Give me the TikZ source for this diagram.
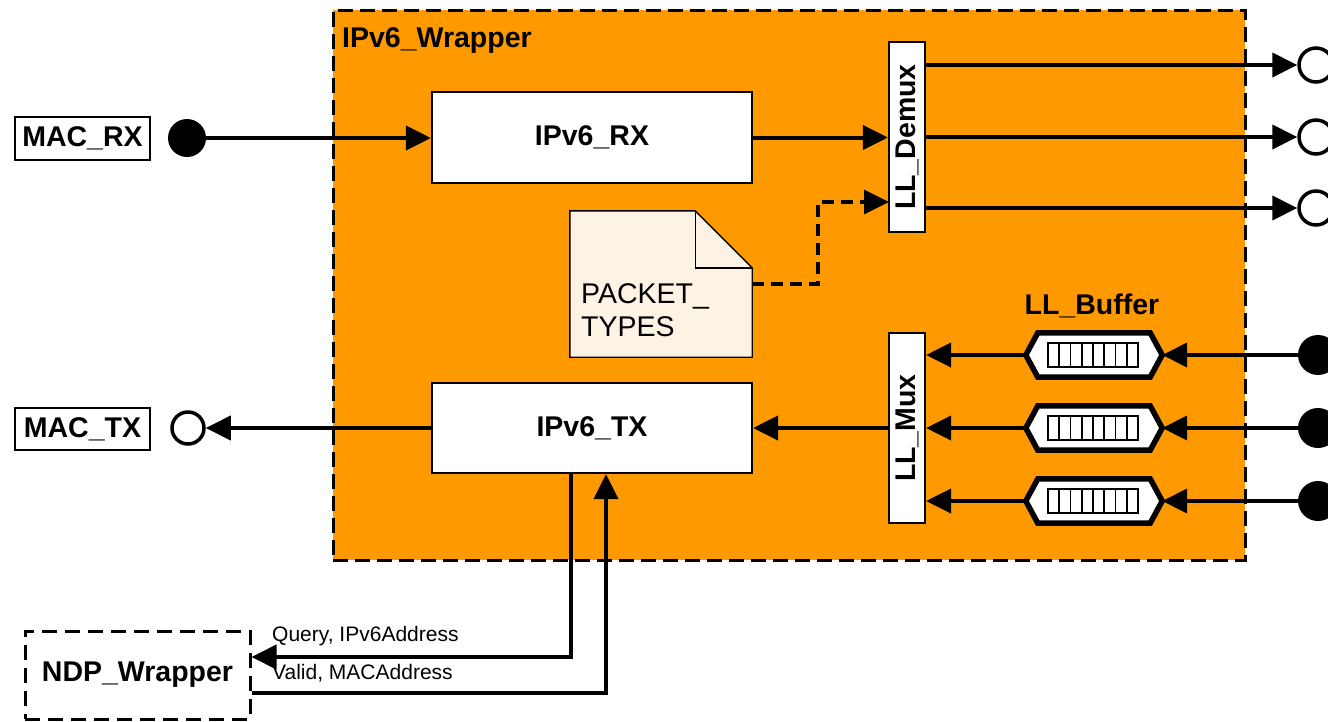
\documentclass[tikz,border=0pt]{standalone}
\usepackage{fontspec}
\setmainfont{Liberation Sans}
\usetikzlibrary{arrows.meta,calc}
\definecolor{orng}{RGB}{255,153,0}
\definecolor{notefill}{RGB}{253,243,228}
\begin{document}
\begin{tikzpicture}[x=1pt,y=-1pt,
  bigfont/.style={font=\bfseries\fontsize{28.5}{32}\selectfont},
  blk/.style={draw, line width=2.2pt, fill=white, bigfont, inner sep=0pt},
  tag/.style={draw, line width=1.6pt, fill=white, bigfont, inner sep=0pt},
  wire/.style={line width=4pt, -{Triangle[length=25pt,width=24pt]}},
  dwire/.style={line width=3.5pt, dash pattern=on 12pt off 7pt, -{Triangle[length=25pt,width=24pt]}},
  lbl/.style={font=\fontsize{21}{24}\selectfont, anchor=west, inner sep=0pt},
  dot/.style={circle, fill=black, inner sep=0pt, minimum size=#1},
  odot/.style={circle, draw, line width=3.5pt, fill=white, inner sep=0pt, minimum size=#1},
  bufbox/.style={draw=none, minimum width=136pt, minimum height=44pt, inner sep=0pt}
]
\useasboundingbox (0,0) rectangle (1328,721);
\fill[white] (0,0) rectangle (1328,721);

% wrapper
\node[draw, line width=3pt, dash pattern=on 15pt off 7pt, fill=orng,
      minimum width=912pt, minimum height=550pt, inner sep=0pt] (wrap) at (789,285) {};
\node[bigfont, anchor=west, inner sep=0pt] (wraplbl) at (342,41) {IPv6\_Wrapper};

% main blocks
\node[blk, minimum width=320pt, minimum height=91pt] (rx) at (592,137.5) {IPv6\_RX};
\node[blk, minimum width=320pt, minimum height=90pt] (tx) at (592,428) {IPv6\_TX};
\node[blk, minimum width=36pt, minimum height=190pt] (demux) at (907,137) {\rotatebox{90}{LL\_Demux}};
\node[blk, minimum width=36pt, minimum height=190pt] (mux) at (907,428) {\rotatebox{90}{LL\_Mux}};

% external tags
\node[tag, minimum width=135pt, minimum height=43pt] (macrx) at (82.5,138.5) {MAC\_RX};
\node[tag, minimum width=135pt, minimum height=42pt] (mactx) at (82.5,429) {MAC\_TX};
\node[draw, line width=3pt, dash pattern=on 15pt off 8pt, fill=white, bigfont, inner sep=0pt,
      minimum width=225pt, minimum height=88pt] (ndp) at (137.5,675) {NDP\_Wrapper};

% port circles
\node[dot=38pt] (crx) at (187,138) {};
\node[odot=32pt] (ctx) at (188,428) {};
\node[odot=34pt] (co1) at (1316,65) {};
\node[odot=34pt] (co2) at (1316,137) {};
\node[odot=34pt] (co3) at (1316,208) {};
\node[dot=40pt] (ci1) at (1318,355) {};
\node[dot=40pt] (ci2) at (1318,428) {};
\node[dot=40pt] (ci3) at (1318,501) {};

% note
\node[draw=none, minimum width=182pt, minimum height=146pt, inner sep=0pt] (note) at (661,284) {};
\draw[line width=1.4pt, fill=notefill]
  (note.north west) -- ($(note.north east)+(-57,0)$) -- ($(note.north east)+(0,57)$)
  -- (note.south east) -- (note.south west) -- cycle;
\draw[line width=1.4pt] ($(note.north east)+(-57,0)$) -- ($(note.north east)+(-57,57)$) -- ($(note.north east)+(0,57)$);
\node[font=\fontsize{28.5}{33}\selectfont, align=left, anchor=north west, inner sep=0pt] (notetxt)
  at (581,283) {PACKET\_\\TYPES};

% buffers
\node[bigfont, inner sep=0pt] (buflbl) at (1092,306) {LL\_Buffer};
\foreach \i/\y in {1/355,2/428,3/501}{
  \node[bufbox] (buf\i) at (1094,\y) {};
  \draw[line width=5.5pt, fill=white, line join=miter]
    (buf\i.west) -- ($(buf\i.north west)+(12,0)$) -- ($(buf\i.north east)+(-12,0)$)
    -- (buf\i.east) -- ($(buf\i.south east)+(-12,0)$) -- ($(buf\i.south west)+(12,0)$) -- cycle;
  \draw[line width=1.6pt] ($(buf\i.center)+(-46,-12)$) rectangle ($(buf\i.center)+(44,12)$);
  \foreach \k in {1,...,7}{
    \draw[line width=1.6pt] ($(buf\i.center)+(-46+11.25*\k,-12)$) -- ($(buf\i.center)+(-46+11.25*\k,12)$);
  }
  \draw[wire] (ci\i) -- (buf\i.east);
  \draw[wire] (buf\i.west) -- (mux.east |- buf\i.west);
}

% connectors
\draw[wire] (crx) -- (rx.west |- crx);
\draw[wire] (rx.east) -- (demux.west |- rx.east);
\draw[wire] (demux.east |- co1) -- (co1);
\draw[wire] (demux.east |- co2) -- (co2);
\draw[wire] (demux.east |- co3) -- (co3);
\coordinate (dmxin) at (889,202);
\draw[dwire] (note.east) -- (818,284) -- (818,202) -- (dmxin);
\draw[wire] (mux.west |- tx.east) -- (tx.east);
\draw[wire] (tx.west) -- (ctx);
\draw[wire] (tx.south -| 571,0) -- (571,657) -- (ndp.east |- 0,657);
\draw[wire] (ndp.east |- 0,693) -- (606,693) -- (tx.south -| 606,0);
\node[lbl] (qlbl) at (272,636) {Query, IPv6Address};
\node[lbl] (vlbl) at (272,673) {Valid, MACAddress};
\end{tikzpicture}
\end{document}
